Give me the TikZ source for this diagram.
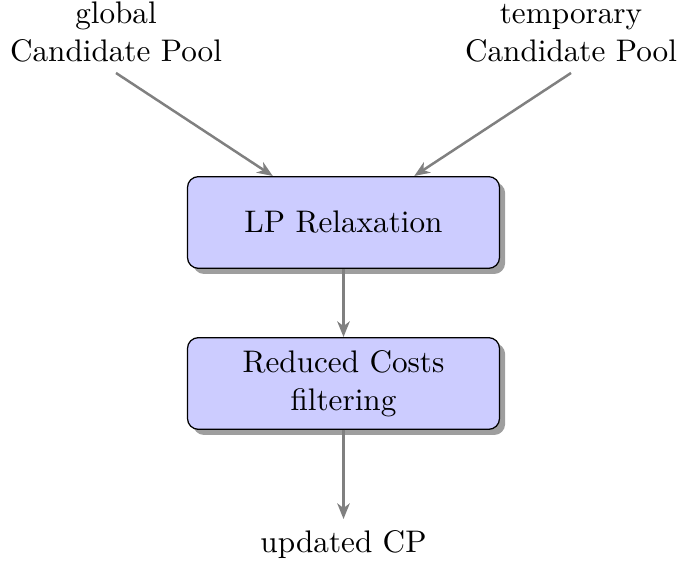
\documentclass[tikz,border=0pt]{standalone}
\usetikzlibrary{shadows,arrows.meta}
\begin{document}
\begin{tikzpicture}[x=0.3205pt,y=-0.3205pt,
  block/.style={draw=black,fill=blue!20,rounded corners=3.5pt,minimum width=100pt,minimum height=29.4pt,align=center,drop shadow={shadow xshift=1.8pt,shadow yshift=-1.8pt,fill=black!38,opacity=1}},
  lbl/.style={align=center},
  conn/.style={draw=gray,thick,-{Stealth[length=5pt,width=4pt,inset=1.5pt]}}]
\useasboundingbox (0,0) rectangle (679,565);
\node[lbl,anchor=south] (g) at (116,73) {global\\Candidate Pool};
\node[lbl,anchor=south] (t) at (571,73) {temporary\\Candidate Pool};
\node[block] (lp) at (343.5,222.5) {LP Relaxation};
\node[block] (rc) at (343.5,383.5) {Reduced Costs\\filtering};
\node[lbl,anchor=north] (u) at (343.5,519) {updated CP};
\draw[conn] (g.south) -- (lp);
\draw[conn] (t.south) -- (lp);
\draw[conn] (lp) -- (rc);
\draw[conn] (rc) -- (u);
\end{tikzpicture}
\end{document}
